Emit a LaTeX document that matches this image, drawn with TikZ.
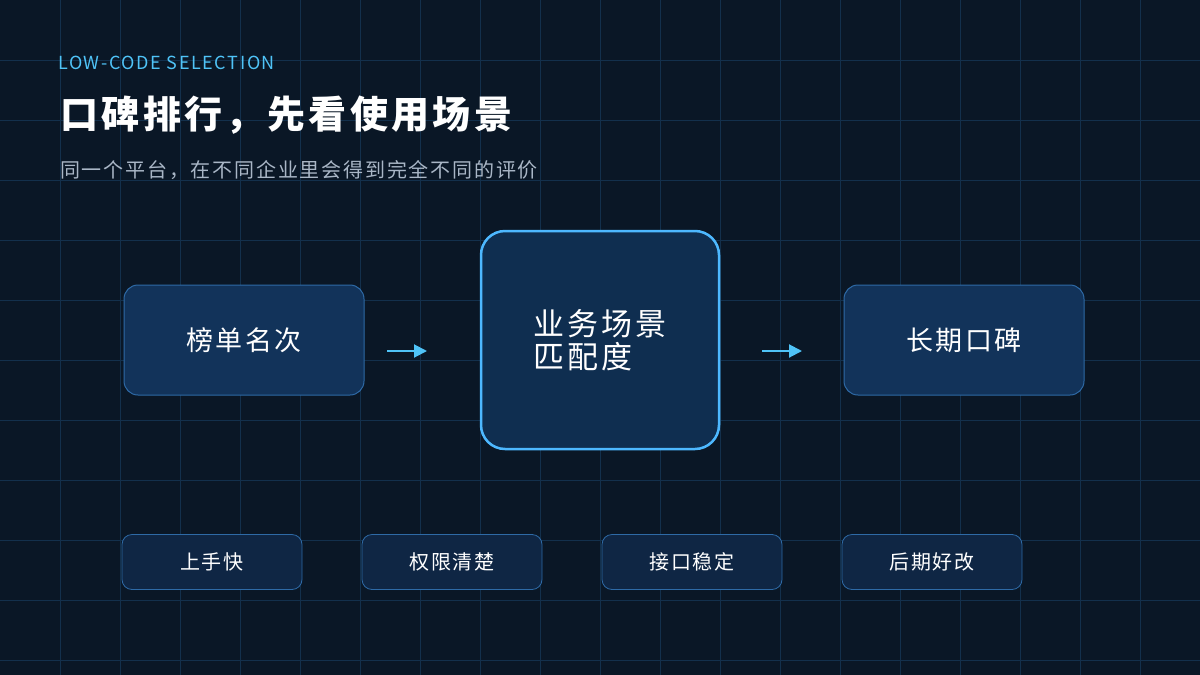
\documentclass[tikz,border=0pt]{standalone}
\usepackage{fontspec}
\setmainfont[LetterSpace=9]{Noto Sans CJK SC}
\usetikzlibrary{arrows.meta}
\definecolor{bgdark}{HTML}{0A1726}
\definecolor{gridline}{HTML}{13304C}
\definecolor{boxfill}{HTML}{12335A}
\definecolor{boxline}{HTML}{2E6AA6}
\definecolor{keyfill}{HTML}{0F2E50}
\definecolor{keyline}{HTML}{4DB8FF}
\definecolor{pillfill}{HTML}{0F2644}
\definecolor{accent}{HTML}{4FC3F7}
\definecolor{subgray}{HTML}{A9B6C6}
\tikzstyle{block} = [rectangle, rounded corners=14pt, minimum width=240pt, minimum height=110pt, text centered, draw=boxline, line width=1pt, fill=boxfill, text=white, font=\fontsize{27}{32}\selectfont]
\tikzstyle{key} = [rectangle, rounded corners=24pt, minimum width=238pt, minimum height=218pt, draw=keyline, line width=2.5pt, fill=keyfill, text=white, align=left, font=\fontsize{31}{33}\selectfont]
\tikzstyle{pill} = [rectangle, rounded corners=10pt, minimum width=180pt, minimum height=55pt, text centered, draw=boxline, line width=0.8pt, fill=pillfill, text=white, font=\fontsize{20}{24}\selectfont]
\tikzstyle{arrow} = [accent, line width=2pt, -{Triangle[length=13pt,width=13pt]}]
\begin{document}
\begin{tikzpicture}[x=1pt,y=-1pt]

% Background and grid
\fill[bgdark] (0,0) rectangle (1200,675);
\useasboundingbox (0,0) rectangle (1200,675);
\foreach \x in {60,120,...,1140} \draw[gridline, line width=1pt] (\x,0) -- (\x,675);
\foreach \y in {60,120,...,660} \draw[gridline, line width=1pt] (0,\y) -- (1200,\y);

% Heading
\node[anchor=west, text=accent, font=\fontsize{18}{20}\selectfont, inner sep=0pt] (tag) at (58,63) {LOW-CODE SELECTION};
\node[anchor=west, text=white, font=\fontsize{38}{42}\selectfont\bfseries, inner sep=0pt] (title) at (60,115) {口碑排行，先看使用场景};
\node[anchor=west, text=subgray, font=\fontsize{20}{22}\selectfont, inner sep=0pt] (sub) at (60,170) {同一个平台，在不同企业里会得到完全不同的评价};

% Nodes
\node (rank) [block] at (244,340) {榜单名次};
\node (fit) [key] at (600,340) {业务场景\\匹配度};
\node (rep) [block] at (964,340) {长期口碑};

\node (p1) [pill] at (212,562) {上手快};
\node (p2) [pill] at (452,562) {权限清楚};
\node (p3) [pill] at (692,562) {接口稳定};
\node (p4) [pill] at (932,562) {后期好改};

% Arrows
\coordinate (a1s) at (387,351); \coordinate (a1e) at (427,351);
\coordinate (a2s) at (762,351); \coordinate (a2e) at (802,351);
\draw [arrow] (a1s) -- (a1e);
\draw [arrow] (a2s) -- (a2e);

\end{tikzpicture}
\end{document}
